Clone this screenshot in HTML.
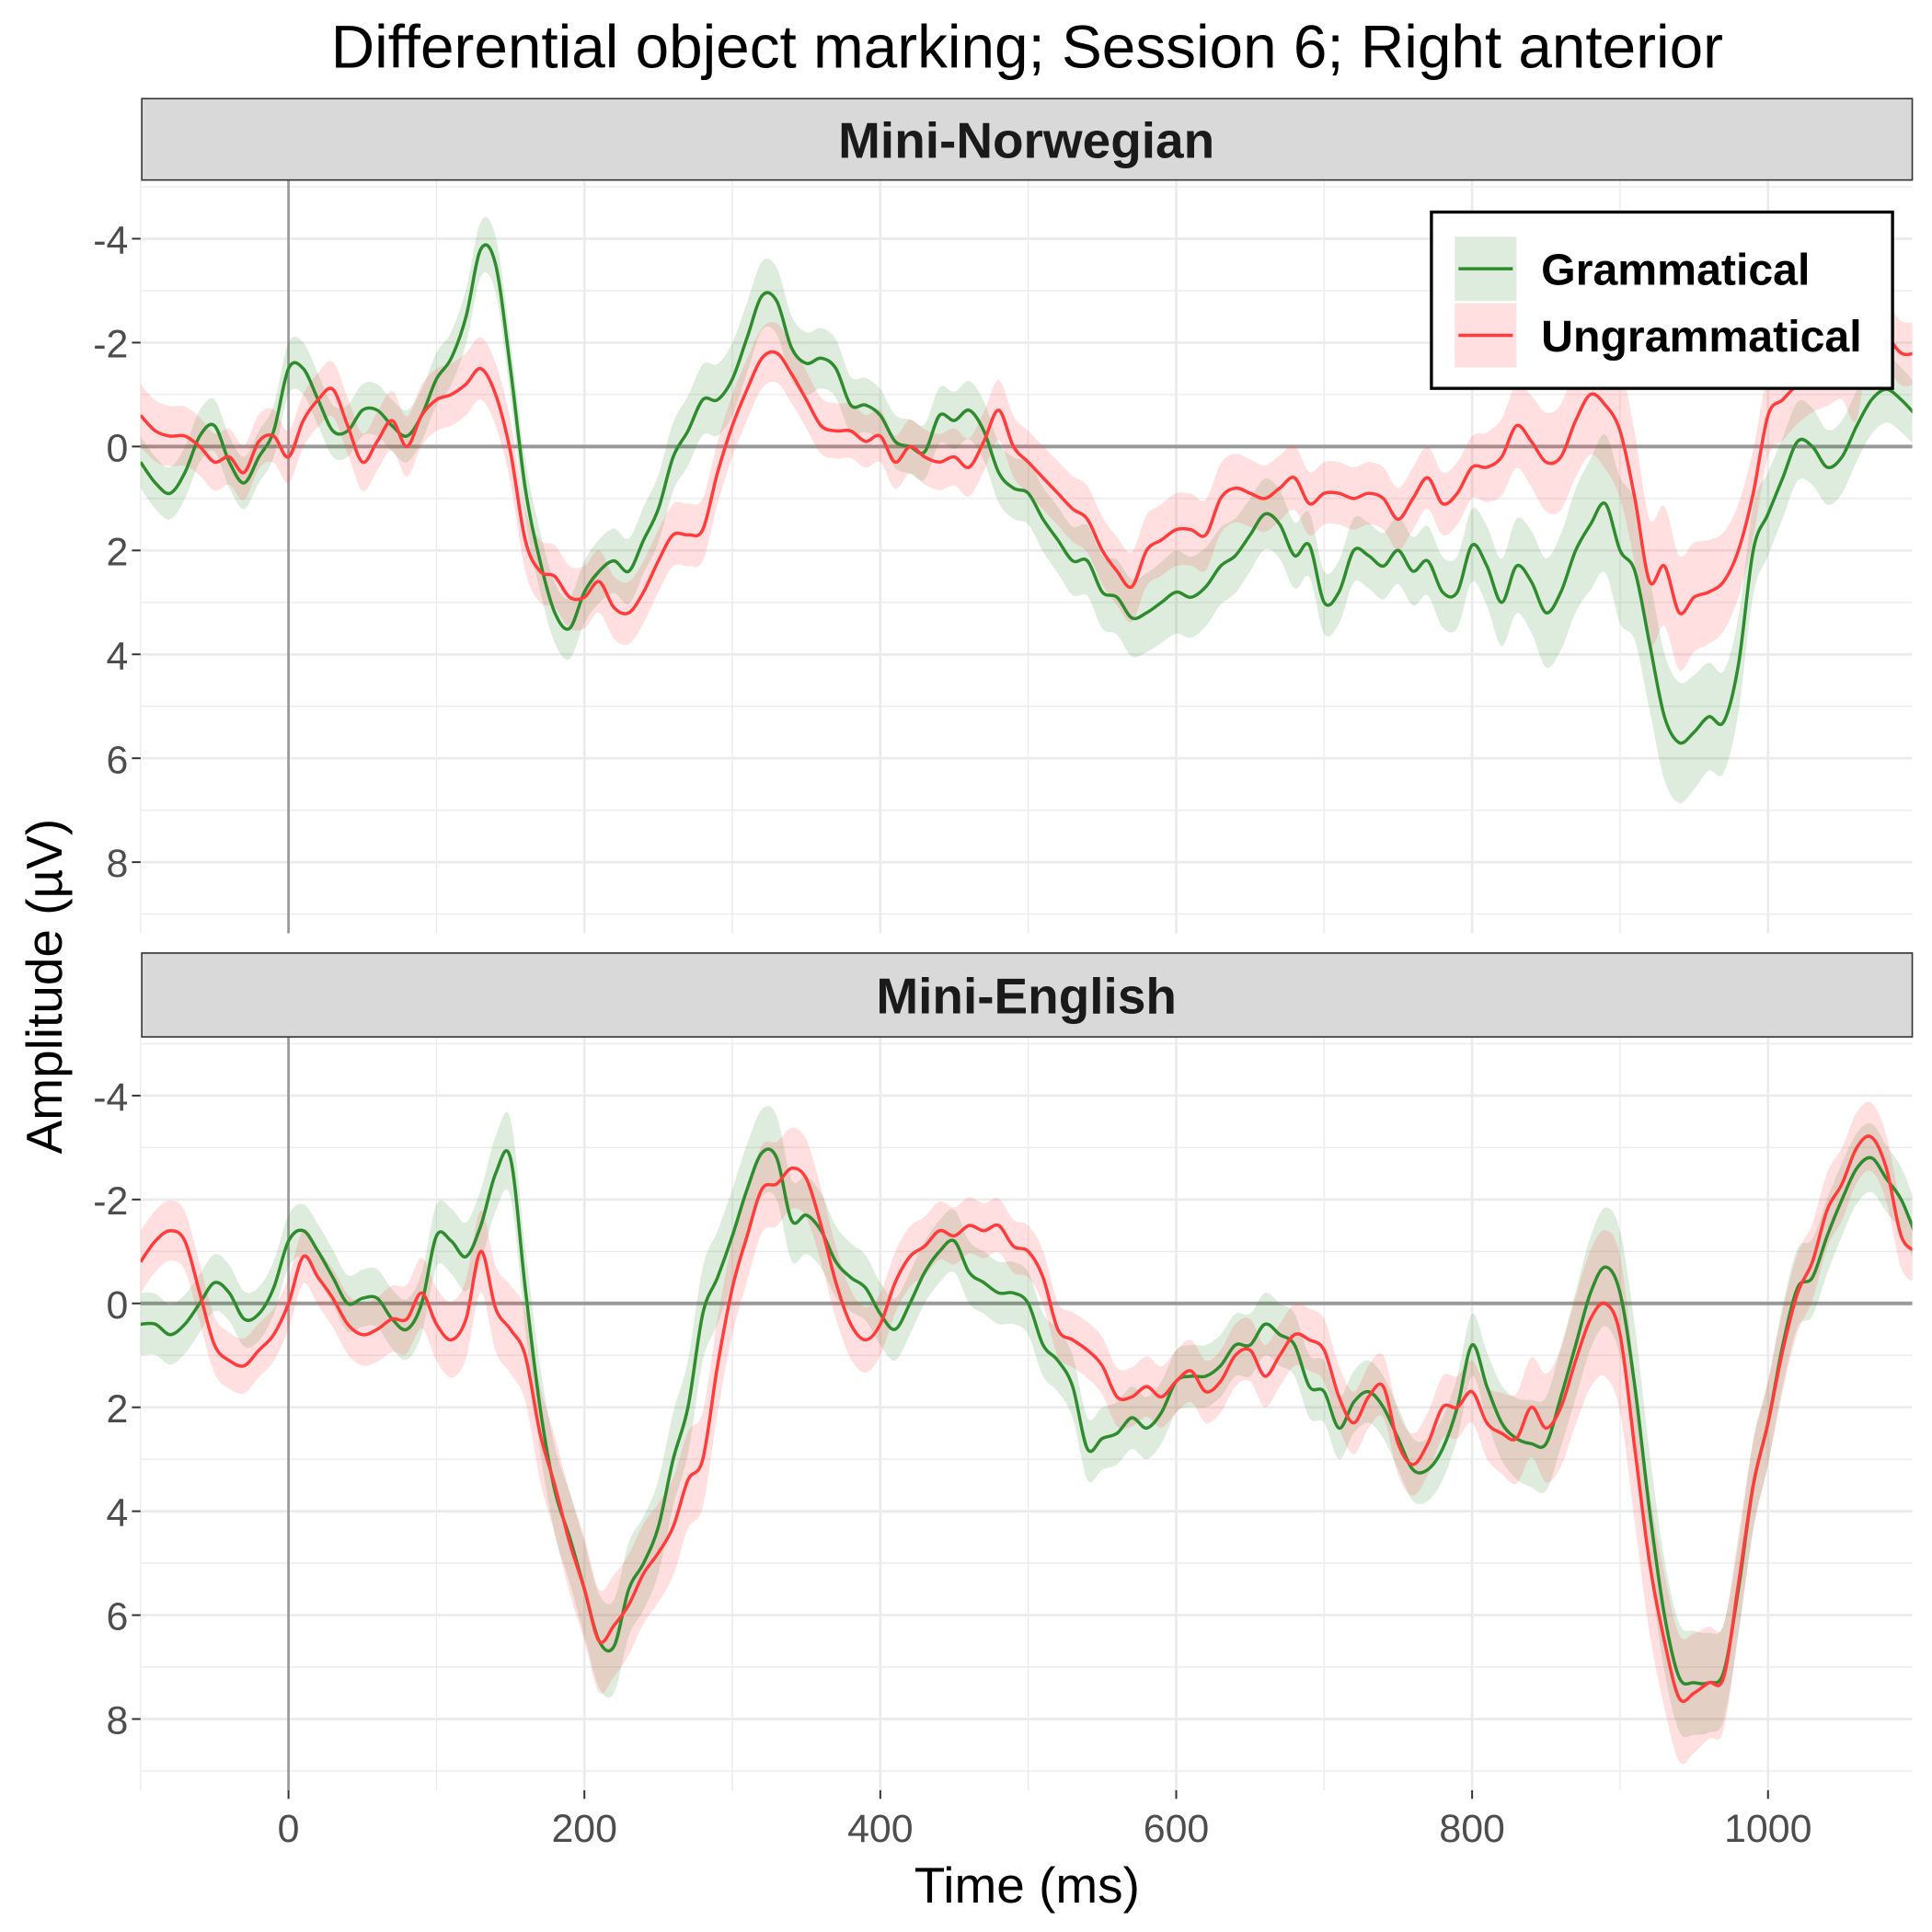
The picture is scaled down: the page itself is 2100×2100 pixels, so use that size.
<!DOCTYPE html>
<html><head><meta charset="utf-8"><style>
html,body{margin:0;padding:0;background:#fff}
svg{display:block}
text{font-family:"Liberation Sans",Arial,sans-serif}
</style></head><body>
<svg id="chart" width="2100" height="2100" viewBox="0 0 1567 1567" xmlns="http://www.w3.org/2000/svg">
<rect width="1567" height="1567" fill="#fff"/>
<text x="833" y="55" font-size="49" text-anchor="middle" fill="#000">Differential object marking; Session 6; Right anterior</text>
<text transform="translate(50,800) rotate(-90)" font-size="41" text-anchor="middle" fill="#000">Amplitude (µV)</text>
<text x="833" y="1543" font-size="41" text-anchor="middle" fill="#000">Time (ms)</text>
<g id="panels"></g>
</svg>
<script>
const times=[];for(let t=-100;t<=1100;t+=10)times.push(t);
const seTimes=[-100,0,100,200,300,400,500,600,700,800,900,1000,1100];
const yTicks=[-4,-2,0,2,4,6,8];
const xTicks=[0,200,400,600,800,1000];
const panelNames=["Mini-Norwegian","Mini-English"];
const seriesNames=["Grammatical","Ungrammatical"];
const normGram=[0.3,0.7,0.9,0.5,-0.2,-0.4,0.3,0.7,0.2,-0.3,-1.5,-1.5,-0.9,-0.3,-0.3,-0.7,-0.7,-0.4,-0.2,-0.6,-1.3,-1.7,-2.5,-3.8,-3.5,-1.5,0.8,2.2,3.2,3.5,2.8,2.4,2.2,2.4,1.8,1.2,0.2,-0.3,-0.9,-0.9,-1.3,-2.1,-2.9,-2.8,-1.9,-1.6,-1.7,-1.5,-0.8,-0.8,-0.6,-0.1,0.0,0.1,-0.6,-0.5,-0.7,-0.3,0.5,0.8,0.9,1.4,1.8,2.2,2.2,2.8,2.9,3.3,3.2,3.0,2.8,2.9,2.7,2.3,2.1,1.7,1.3,1.5,2.1,1.9,3.0,2.8,2.0,2.1,2.3,2.0,2.4,2.2,2.8,2.8,1.9,2.3,3.0,2.3,2.6,3.2,2.8,2.0,1.5,1.1,2.0,2.4,3.8,5.2,5.7,5.5,5.2,5.3,4.2,2.0,1.3,0.6,-0.1,0.0,0.4,0.2,-0.4,-0.9,-1.1,-0.9,-0.6];
const normUngram=[-0.6,-0.3,-0.2,-0.2,0.0,0.3,0.2,0.5,-0.1,-0.2,0.2,-0.5,-0.9,-1.1,-0.4,0.3,-0.1,-0.5,0.0,-0.6,-0.9,-1.0,-1.2,-1.5,-1.0,0.1,1.8,2.4,2.5,2.9,2.9,2.6,3.1,3.2,2.8,2.2,1.7,1.7,1.6,0.5,-0.4,-1.1,-1.7,-1.8,-1.4,-0.9,-0.4,-0.3,-0.3,-0.1,-0.2,0.3,0.0,0.2,0.3,0.2,0.4,-0.1,-0.7,0.0,0.3,0.6,0.9,1.2,1.4,2.0,2.4,2.7,2.0,1.8,1.6,1.6,1.7,1.0,0.8,0.9,1.0,0.8,0.6,1.1,0.9,0.9,1.0,0.9,1.0,1.4,1.0,0.6,1.1,0.9,0.4,0.4,0.2,-0.4,-0.1,0.3,0.2,-0.5,-1.0,-0.8,-0.3,1.0,2.6,2.3,3.2,2.9,2.8,2.6,2.0,0.9,-0.6,-0.9,-1.2,-1.4,-1.5,-1.6,-1.2,-2.9,-2.2,-1.8,-1.8];
const engGram=[0.4,0.4,0.6,0.4,0.0,-0.4,-0.2,0.3,0.2,-0.3,-1.2,-1.4,-1.0,-0.5,0.0,-0.1,-0.1,0.3,0.5,0.0,-1.3,-1.2,-0.9,-1.5,-2.5,-2.8,-0.3,2.0,3.6,4.5,5.5,6.5,6.6,5.5,5.0,4.3,3.0,2.0,0.2,-0.5,-1.3,-2.2,-2.9,-2.8,-1.6,-1.7,-1.4,-0.8,-0.5,-0.3,0.2,0.5,0.0,-0.6,-1.0,-1.2,-0.6,-0.4,-0.2,-0.2,0.0,0.8,1.1,1.6,2.8,2.6,2.5,2.2,2.4,2.1,1.5,1.4,1.4,1.2,0.8,0.8,0.4,0.6,0.8,1.6,1.7,2.4,1.9,1.7,2.0,2.6,3.2,3.2,2.8,2.0,0.8,1.6,2.3,2.6,2.7,2.7,1.8,0.8,-0.2,-0.7,-0.2,1.6,4.0,6.0,7.2,7.3,7.3,7.1,5.5,3.5,2.3,0.8,-0.3,-0.5,-1.3,-2.0,-2.6,-2.8,-2.4,-2.0,-1.3];
const engUngram=[-0.8,-1.2,-1.4,-1.2,-0.2,0.8,1.1,1.2,0.9,0.6,0.0,-0.9,-0.5,-0.1,0.4,0.6,0.5,0.3,0.3,-0.2,0.4,0.7,0.3,-1.0,0.1,0.5,1.0,2.5,3.5,4.6,5.5,6.5,6.2,5.8,5.2,4.8,4.3,3.4,3.0,1.2,-0.3,-1.3,-2.2,-2.3,-2.6,-2.4,-1.5,-0.4,0.4,0.7,0.4,-0.4,-0.9,-1.1,-1.4,-1.3,-1.5,-1.4,-1.5,-1.1,-1.0,-0.5,0.5,0.7,0.9,1.2,1.8,1.8,1.6,1.8,1.5,1.3,1.7,1.5,1.0,0.9,1.4,1.0,0.6,0.7,0.9,1.8,2.3,1.8,1.6,2.7,3.1,2.7,2.0,2.0,1.7,2.3,2.5,2.6,2.0,2.4,2.0,1.1,0.3,0.0,0.6,2.8,5.0,6.5,7.6,7.5,7.3,7.2,5.4,3.5,2.3,0.9,-0.2,-0.8,-1.8,-2.3,-3.0,-3.2,-2.6,-1.3,-1.0];
const normGramSE=[0.5,0.5,0.5,0.6,0.7,0.5,0.6,0.8,0.6,0.7,1.4,0.8,0.6];
const normUngramSE=[0.6,0.5,0.6,0.6,0.6,0.5,0.6,0.7,0.6,0.6,1.3,0.8,0.6];
const engGramSE=[0.6,0.5,0.6,0.9,0.9,0.6,0.6,0.6,0.6,0.6,1.2,0.8,0.6];
const engUngramSE=[0.6,0.5,0.7,1.0,0.9,0.6,0.5,0.6,0.6,0.6,1.5,0.8,0.6];

const NS="http://www.w3.org/2000/svg";
const X0=114,X1=1551;
const xs=t=>234+t*1.2;
const panels=[{top:146,bot:757,strip:80,data:[normGram,normUngram],se:[normGramSE,normUngramSE]},
              {top:841,bot:1452,strip:773,data:[engGram,engUngram],se:[engGramSE,engUngramSE]}];
const colors=["#2e8b2e","#ff3b3b"],fills=["rgba(46,139,46,0.16)","rgba(255,80,80,0.18)"];
function mk(tag,attrs,parent){const e=document.createElementNS(NS,tag);for(const k in attrs)e.setAttribute(k,attrs[k]);parent.appendChild(e);return e;}
function seAt(arr,t){const i=Math.min(11,Math.floor((t+100)/100));const f=(t-seTimes[i])/100;return arr[i]*(1-f)+arr[i+1]*f;}
function smooth(pts){let d="M"+pts[0][0].toFixed(1)+","+pts[0][1].toFixed(1);
 for(let i=0;i<pts.length-1;i++){const p0=pts[Math.max(0,i-1)],p1=pts[i],p2=pts[i+1],p3=pts[Math.min(pts.length-1,i+2)];
 d+=" C"+(p1[0]+(p2[0]-p0[0])/6).toFixed(1)+","+(p1[1]+(p2[1]-p0[1])/6).toFixed(1)+" "+(p2[0]-(p3[0]-p1[0])/6).toFixed(1)+","+(p2[1]-(p3[1]-p1[1])/6).toFixed(1)+" "+p2[0].toFixed(1)+","+p2[1].toFixed(1);}
 return d;}
const root=document.getElementById('panels');
panels.forEach((P,pi)=>{
 const ys=v=>P.top+(v+5.13)/(14.5)*(P.bot-P.top);
 const g=mk('g',{},root);
 
 
 const clipId='clip'+pi;
 const cp=mk('clipPath',{id:clipId},g);mk('rect',{x:X0,y:P.top,width:X1-X0,height:P.bot-P.top},cp);
 for(let v=-5;v<=9;v++){const y=ys(v);const gl=mk('line',{x1:X0,x2:X1,y1:y,y2:y,stroke:"#ebebeb","stroke-width":v%2===0?2:1},g);
  }
 for(let t=-100;t<=1000;t+=100){const x=xs(t);const gl=mk('line',{x1:x,x2:x,y1:P.top,y2:P.bot,stroke:"#ebebeb","stroke-width":t%200===0?2:1},g);
  }
 const zl=mk('line',{x1:X0,x2:X1,y1:ys(0),y2:ys(0),stroke:"#999","stroke-width":3},g);
 
 const vl=mk('line',{x1:xs(0),x2:xs(0),y1:P.top,y2:P.bot,stroke:"#999","stroke-width":2},g);
 
 const cg=mk('g',{"clip-path":"url(#"+clipId+")"},g);
 P.data.forEach((arr,si)=>{
  const up=times.map((t,i)=>[xs(t),ys(arr[i]-seAt(P.se[si],t))]);
  const lo=times.map((t,i)=>[xs(t),ys(arr[i]+seAt(P.se[si],t))]).reverse();
  const dUp=smooth(up),dLo=smooth(lo).replace(/^M/,"L");
  const rb=mk('path',{d:dUp+" "+dLo+" Z",fill:fills[si],stroke:"none"},cg);
  
 });
 P.data.forEach((arr,si)=>{
  const pts=times.map((t,i)=>[xs(t),ys(arr[i])]);
  const ln=mk('path',{d:smooth(pts),fill:"none",stroke:colors[si],"stroke-width":2.6},cg);
  
 });
 const st=mk('rect',{x:X0+1,y:P.strip,width:X1-X0-1,height:P.top-P.strip,fill:"#d9d9d9",stroke:"#333","stroke-width":1.2},g);
 
 const stt=mk('text',{x:(X0+X1)/2,y:(P.strip+P.top)/2+15,"font-size":41,"font-weight":"bold","text-anchor":"middle",fill:"#1a1a1a"},g);
 stt.textContent=panelNames[pi];
 
 yTicks.forEach(v=>{const y=ys(v);
  const tk=mk('line',{x1:X0-7,x2:X0,y1:y,y2:y,stroke:"#333","stroke-width":1.5},g);
  
  const tl=mk('text',{x:X0-10,y:y+12,"font-size":32,"text-anchor":"end",fill:"#4d4d4d"},g);tl.textContent=String(v);
  });
 if(pi===1){xTicks.forEach(t=>{const x=xs(t);
  const tk=mk('line',{x1:x,x2:x,y1:P.bot,y2:P.bot+7,stroke:"#333","stroke-width":1.5},g);
  
  const tl=mk('text',{x:x,y:P.bot+42,"font-size":32,"text-anchor":"middle",fill:"#4d4d4d"},g);tl.textContent=String(t);
  });}
});
const lg=mk('g',{},root);

mk('rect',{x:1161,y:172,width:374,height:143,fill:"#fff",stroke:"#000","stroke-width":2.5},lg);
seriesNames.forEach((n,i)=>{const cy=218+i*54;
 const e=mk('g',{},lg);
 
 mk('rect',{x:1180,y:cy-26,width:50,height:52,fill:fills[i]},e);
 mk('line',{x1:1183,x2:1227,y1:cy,y2:cy,stroke:colors[i],"stroke-width":2.6},e);
 const t=mk('text',{x:1250,y:cy+13,"font-size":36,"font-weight":"bold",fill:"#000"},e);t.textContent=n;});
</script>
</body></html>
